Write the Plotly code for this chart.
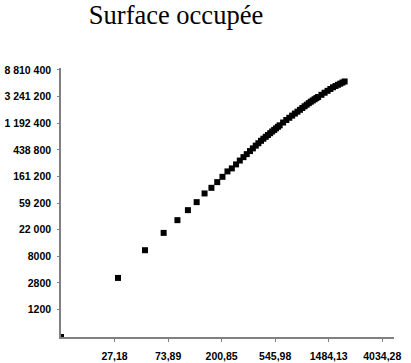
import numpy as np
import plotly.graph_objects as go

title_text = "Surface occupée"

x_values = [10, 29, 48, 68, 88, 107, 126, 146, 166, 185, 204, 224, 243, 263,
            282, 302, 321, 341, 360, 380, 399, 419, 438, 458, 477, 497, 516, 536,
            555, 575, 594, 633, 672, 711, 750, 789, 828, 867, 906, 945, 984, 1023,
            1062, 1101, 1140, 1179, 1218, 1296, 1374, 1452, 1530, 1608, 1686, 1764,
            1842, 1920, 1998]
y_values = [388, 3565, 10100, 19360, 31230, 45480, 61450, 85210, 105250, 130350,
            159050, 194850, 218250, 253750,
            293000, 333350, 372900, 418600, 463200, 513200, 561900, 615400, 665800,
            715000, 765400, 818500, 874200, 926400, 982600, 1041900, 1101200,
            1223000, 1343300, 1461200, 1586200, 1712500, 1837600, 1971100, 2109400,
            2251300, 2388400, 2533900, 2673400, 2799700, 2933200, 3064200, 3195300,
            3465100, 3746300, 4020900, 4305300, 4596200, 4828300, 5050600, 5272900,
            5498500, 5717500]

x_tick_labels = ["27,18", "73,89", "200,85", "545,98", "1484,13", "4034,28"]
y_tick_labels = ["1200", "2800", "8000", "22 000", "59 200", "161 200", "438 800",
                 "1 192 400", "3 241 200", "8 810 400"]

x_tick_pos = 10 * np.exp(np.arange(1, 7))
y_tick_pos = 0.9915 * np.exp(np.arange(7, 17))

tick_font = dict(family="Liberation Sans, Arial, sans-serif",
                 size=10.5, color="black", weight="bold")

W, H = 411, 363

fig = go.Figure(go.Scatter(
    x=x_values, y=y_values, mode="markers",
    marker=dict(symbol="square", size=6, color="black", line=dict(width=0)),
    cliponaxis=True, showlegend=False,
))

fig.update_layout(
    width=W, height=H,
    margin=dict(l=61, r=17, t=68, b=26),
    paper_bgcolor="white", plot_bgcolor="white",
    title=dict(text=title_text, x=176 / W, xanchor="center", y=1 - 15 / H, yanchor="middle",
               font=dict(family="Liberation Serif, Times New Roman, serif", size=26.5, color="black")),
)
fig.update_xaxes(
    type="log", range=[1.0, 3.701], automargin=False,
    tickmode="array", tickvals=x_tick_pos, ticktext=x_tick_labels, tickangle=0,
    showgrid=False, zeroline=False,
    showline=True, linecolor="#808080", linewidth=1.5,
    ticks="outside", ticklen=3, tickcolor="#808080", tickwidth=1,
    tickfont=tick_font, ticklabelstandoff=6,
)
fig.update_yaxes(
    type="log", range=[2.5884, 6.977], automargin=False,
    tickmode="array", tickvals=y_tick_pos, ticktext=y_tick_labels,
    showgrid=False, zeroline=False,
    showline=True, linecolor="#808080", linewidth=1.5,
    ticks="outside", ticklen=2, tickcolor="#808080", tickwidth=1,
    tickfont=tick_font, ticklabelstandoff=4,
)

# remove the browser's default 8px page margin so the figure fills the window
fig.write_html("out.html", config={"displayModeBar": False},
               post_script="document.body.style.margin='0';")
